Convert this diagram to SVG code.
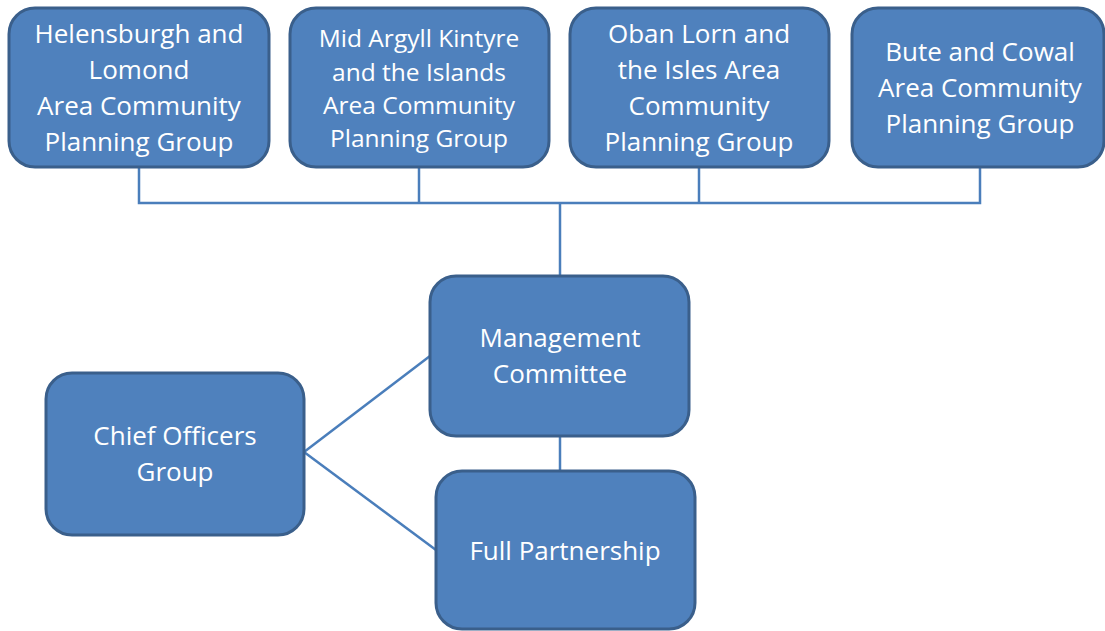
<svg xmlns="http://www.w3.org/2000/svg" width="1105" height="631" viewBox="0 0 1105 631">
<style>
.box{fill:#4f81bd;stroke:#3a5f8b;stroke-width:3}
.t{font-family:"Open Sans","Noto Sans",sans-serif;font-size:26px;fill:#ffffff;text-anchor:middle}
.t2{font-size:24.5px}
.c{stroke:#4a7ebb;stroke-width:2.5;fill:none}
</style>
<rect width="1105" height="631" fill="#ffffff"/>
<g id="connectors">
<polyline class="c" points="139,167 139,203 980,203 980,167"/>
<line class="c" x1="419" y1="167" x2="419" y2="203"/>
<line class="c" x1="699" y1="167" x2="699" y2="203"/>
<line class="c" x1="560" y1="203" x2="560" y2="276"/>
<line class="c" x1="560" y1="436" x2="560" y2="500"/>
<line class="c" x1="304" y1="452" x2="430" y2="356"/>
<line class="c" x1="304" y1="452" x2="436" y2="550"/>
</g>
<g id="helensburgh">
<rect class="box" x="9" y="8" width="260" height="159" rx="26"/>
<text class="t" x="139" y="43">Helensburgh and</text>
<text class="t" x="139" y="79">Lomond</text>
<text class="t" x="139" y="115">Area Community</text>
<text class="t" x="139" y="151">Planning Group</text>
</g>
<g id="midargyll">
<rect class="box" x="290" y="8" width="259" height="159" rx="26"/>
<text class="t t2" x="419" y="47">Mid Argyll Kintyre</text>
<text class="t t2" x="419" y="81">and the Islands</text>
<text class="t t2" x="419" y="114">Area Community</text>
<text class="t t2" x="419" y="147">Planning Group</text>
</g>
<g id="oban">
<rect class="box" x="570" y="8" width="259" height="159" rx="26"/>
<text class="t" x="699" y="43">Oban Lorn and</text>
<text class="t" x="699" y="79">the Isles Area</text>
<text class="t" x="699" y="115">Community</text>
<text class="t" x="699" y="151">Planning Group</text>
</g>
<g id="bute">
<rect class="box" x="852" y="8" width="252" height="159" rx="26"/>
<text class="t" x="980" y="61">Bute and Cowal</text>
<text class="t" x="980" y="97">Area Community</text>
<text class="t" x="980" y="133">Planning Group</text>
</g>
<g id="management">
<rect class="box" x="430" y="276" width="259" height="160" rx="26"/>
<text class="t" x="560" y="347">Management</text>
<text class="t" x="560" y="383">Committee</text>
</g>
<g id="chief">
<rect class="box" x="46" y="373" width="258" height="162" rx="26"/>
<text class="t" x="175" y="445">Chief Officers</text>
<text class="t" x="175" y="481">Group</text>
</g>
<g id="full">
<rect class="box" x="436" y="471" width="259" height="158" rx="26"/>
<text class="t" x="565" y="560">Full Partnership</text>
</g>
</svg>
